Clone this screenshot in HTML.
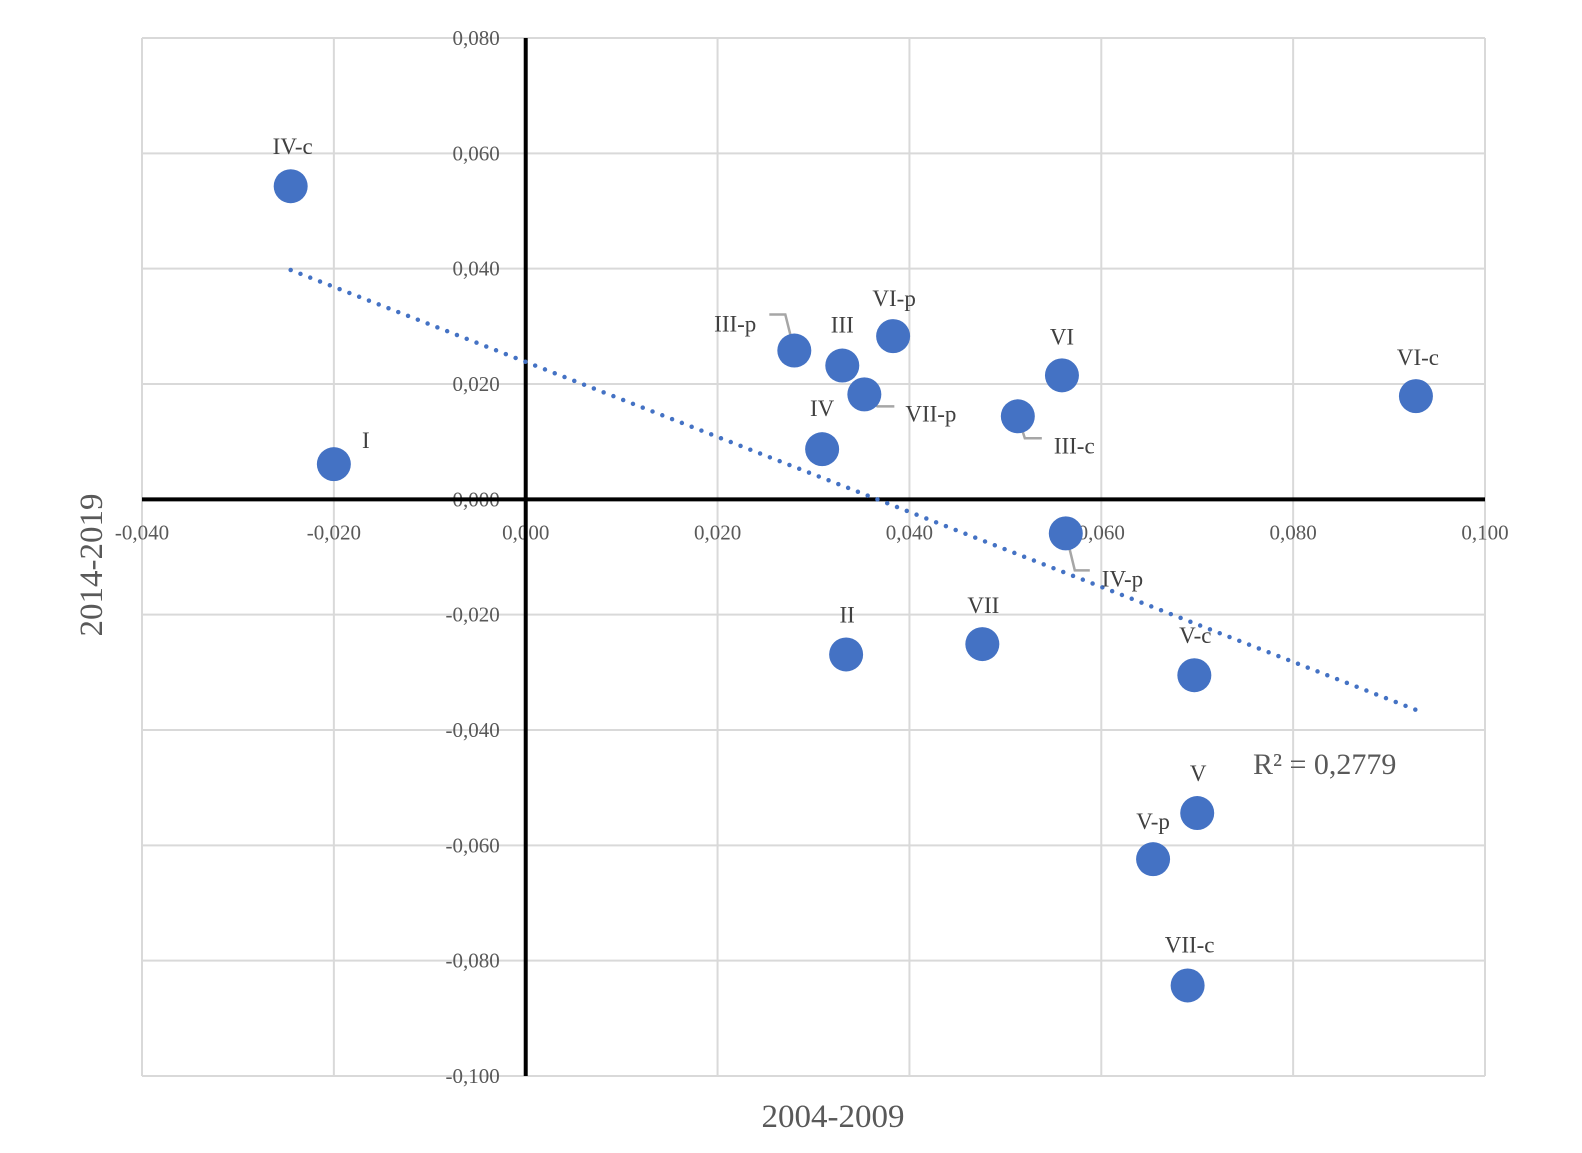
<!DOCTYPE html>
<html><head><meta charset="utf-8"><style>
html,body{margin:0;padding:0;background:#fff}
svg text{font-family:"Liberation Serif",serif}
</style></head><body>
<svg id="chart" width="1582" height="1148" xmlns="http://www.w3.org/2000/svg">
<g id="grid"></g>
<g id="axes"></g>
<g id="trend"></g>
<g id="leaders"></g>
<g id="points"></g>
<g id="labels"></g>
<text x="833" y="1127" font-size="33" fill="#595959" text-anchor="middle">2004-2009</text>
<text x="0" y="0" font-size="33" fill="#595959" text-anchor="middle" transform="translate(102,565) rotate(-90)">2014-2019</text>
<text id="r2" x="1253" y="774" font-size="30" fill="#595959">R² = 0,2779</text>
</svg>
<script>
const names = ["IV-c","I","III-p","III","VI-p","VII-p","IV","VI","III-c","VI-c","IV-p","II","VII","V-c","V","V-p","VII-c"];
const xVals = [-0.0245,-0.0200,0.0280,0.0330,0.0383,0.0353,0.0309,0.0559,0.0513,0.0928,0.0563,0.0334,0.0476,0.0697,0.0700,0.0654,0.0690];
const yVals = [0.0543,0.0061,0.0258,0.0232,0.0283,0.0182,0.0087,0.0215,0.0144,0.0179,-0.0059,-0.0269,-0.0251,-0.0305,-0.0544,-0.0624,-0.0843];
const xTicks = [-0.04,-0.02,0,0.02,0.04,0.06,0.08,0.1];
const yTicks = [0.08,0.06,0.04,0.02,0,-0.02,-0.04,-0.06,-0.08,-0.1];
const xTickLabels = ["-0,040","-0,020","0,000","0,020","0,040","0,060","0,080","0,100"];
const yTickLabels = ["0,080","0,060","0,040","0,020","0,000","-0,020","-0,040","-0,060","-0,080","-0,100"];

const L=142,R=1485,T=38,B=1076;
const xs=v=>L+(v+0.04)/0.14*(R-L);
const ys=v=>T+(0.08-v)/0.18*(B-T);
const NS="http://www.w3.org/2000/svg";
function mk(tag,attrs,parent){const e=document.createElementNS(NS,tag);for(const k in attrs)e.setAttribute(k,attrs[k]);parent.appendChild(e);return e;}
const grid=document.getElementById('grid'),axes=document.getElementById('axes');
xTicks.forEach((t,i)=>{
  const l=mk('line',{x1:xs(t),x2:xs(t),y1:T,y2:B,stroke:'#d9d9d9','stroke-width':2},grid);
  
  
  const tx=mk('text',{x:xs(t),y:ys(0)+40,'font-size':21,fill:'#595959','text-anchor':'middle'},axes);
  tx.textContent=xTickLabels[i];
  
  
});
yTicks.forEach((t,i)=>{
  const l=mk('line',{x1:L,x2:R,y1:ys(t),y2:ys(t),stroke:'#d9d9d9','stroke-width':2},grid);
  
  
  const tx=mk('text',{x:xs(0)-26,y:ys(t)+7,'font-size':21,fill:'#595959','text-anchor':'end'},axes);
  tx.textContent=yTickLabels[i];
  
  
});
const xa=mk('line',{x1:L,x2:R,y1:ys(0),y2:ys(0),stroke:'#000','stroke-width':4},axes);


const ya=mk('line',{x1:xs(0),x2:xs(0),y1:T,y2:B,stroke:'#000','stroke-width':4},axes);



const n=xVals.length;let mx=0,my=0;for(let i=0;i<n;i++){mx+=xVals[i];my+=yVals[i];}mx/=n;my/=n;
let sxy=0,sxx=0;for(let i=0;i<n;i++){sxy+=(xVals[i]-mx)*(yVals[i]-my);sxx+=(xVals[i]-mx)**2;}
const slope=sxy/sxx,icpt=my-slope*mx;
const x0=Math.min(...xVals),x1=Math.max(...xVals);
const tl=mk('line',{x1:xs(x0),y1:ys(icpt+slope*x0),x2:xs(x1),y2:ys(icpt+slope*x1),stroke:'#4472C4','stroke-width':4.5,'stroke-linecap':'round','stroke-dasharray':'0 10.5'},document.getElementById('trend'));



const lab={
 "IV-c":[2,-40,'middle'],"I":[32,-24,'middle'],"III-p":[-38,-27,'end',[[0,0],[-9,-36],[-25,-36]]],
 "III":[0,-41,'middle'],"VI-p":[1,-38,'middle'],"VII-p":[41,19,'start',[[0,0],[13,12],[30,12]]],
 "IV":[0,-41,'middle'],"VI":[0,-39,'middle'],"III-c":[36,29,'start',[[0,0],[7,22],[24,22]]],
 "VI-c":[2,-39,'middle'],"IV-p":[36,45,'start',[[0,0],[9,37],[24,37]]],"II":[1,-40,'middle'],
 "VII":[1,-39,'middle'],"V-c":[1,-40,'middle'],"V":[1,-40,'middle'],"V-p":[0,-38,'middle'],"VII-c":[2,-41,'middle']
};
const pg=document.getElementById('points'),lg=document.getElementById('labels'),ld=document.getElementById('leaders');
names.forEach((nm,i)=>{
  const cx=xs(xVals[i]),cy=ys(yVals[i]);
  const c=mk('circle',{cx:cx,cy:cy,r:17,fill:'#4472C4'},pg);
  
  
  const o=lab[nm];
  const t=mk('text',{x:cx+o[0],y:cy+o[1]+8,'font-size':23,fill:'#404040','text-anchor':o[2]},lg);
  t.textContent=nm;
  
  
  if(o[3]){
    const p=mk('polyline',{points:o[3].map(q=>(cx+q[0])+','+(cy+q[1])).join(' '),fill:'none',stroke:'#a6a6a6','stroke-width':2.5},ld);
    
    
  }
});
</script>
</body></html>
